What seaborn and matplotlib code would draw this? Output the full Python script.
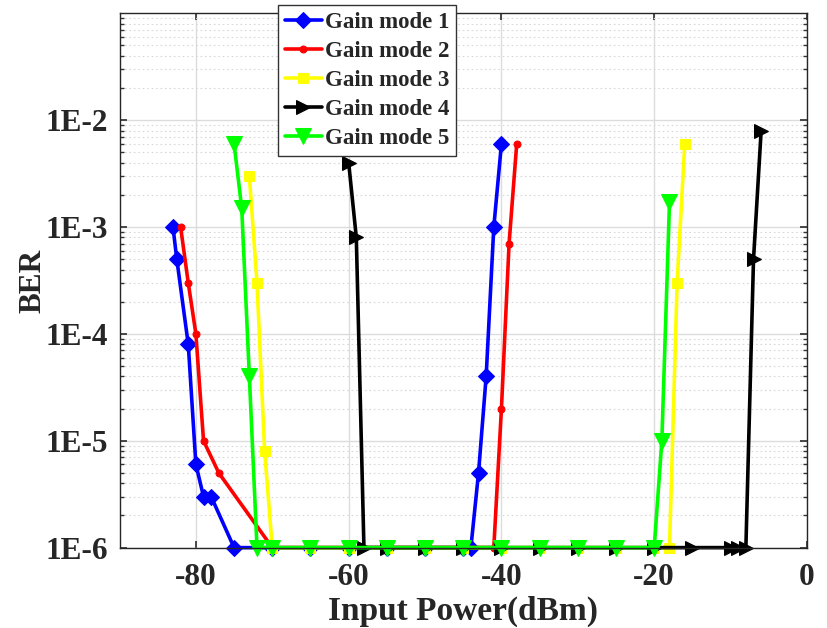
import matplotlib
matplotlib.use("Agg")
import matplotlib.pyplot as plt
import matplotlib.ticker as mticker
import numpy as np
import seaborn as sns

# values
mode1_x = [-83, -82.5, -81, -80, -79, -78, -75, -70, -65, -60, -55, -50, -45, -44, -43, -42, -41, -40]
mode1_ber = [1e-3, 5e-4, 8e-5, 6e-6, 3e-6, 3e-6, 1e-6, 1e-6, 1e-6, 1e-6, 1e-6, 1e-6, 1e-6, 1e-6,
             5e-6, 4e-5, 1e-3, 6e-3]

mode2_x = [-82, -81, -80, -79, -77, -70, -65, -60, -55, -50, -45, -41, -40, -39, -38]
mode2_ber = [1e-3, 3e-4, 1e-4, 1e-5, 5e-6, 1e-6, 1e-6, 1e-6, 1e-6, 1e-6, 1e-6, 1e-6, 2e-5, 7e-4, 6e-3]

mode3_x = [-73, -72, -71, -70, -65, -60, -55, -50, -45, -40, -35, -30, -25, -20, -18, -17, -16]
mode3_ber = [3e-3, 3e-4, 8e-6, 1e-6, 1e-6, 1e-6, 1e-6, 1e-6, 1e-6, 1e-6, 1e-6, 1e-6, 1e-6, 1e-6,
             1e-6, 3e-4, 6e-3]

mode4_x = [-60, -59, -58, -55, -50, -45, -40, -35, -30, -25, -20, -15, -10, -9, -8, -7, -6]
mode4_ber = [4e-3, 8e-4, 1e-6, 1e-6, 1e-6, 1e-6, 1e-6, 1e-6, 1e-6, 1e-6, 1e-6, 1e-6, 1e-6, 1e-6,
             1e-6, 5e-4, 8e-3]

mode5_x = [-75, -74, -73, -72, -70, -65, -60, -55, -50, -45, -40, -35, -30, -25, -20, -19, -18]
mode5_ber = [6e-3, 1.5e-3, 4e-5, 1e-6, 1e-6, 1e-6, 1e-6, 1e-6, 1e-6, 1e-6, 1e-6, 1e-6, 1e-6, 1e-6,
             1e-6, 1e-5, 1.7e-3]

x_ticks = [-80, -60, -40, -20, 0]
y_ticks = [1e-6, 1e-5, 1e-4, 1e-3, 1e-2]
y_tick_labels = ["1E-6", "1E-5", "1E-4", "1E-3", "1E-2"]

sns.set_theme(style="ticks")
plt.rcParams["font.family"] = ["Liberation Serif", "DejaVu Serif"]
plt.rcParams["font.weight"] = "bold"
plt.rcParams["axes.unicode_minus"] = False

fig = plt.figure(figsize=(8.27, 6.28), dpi=100)
ax = fig.add_axes([0.1445, 0.128, 0.8313, 0.8508])

series = [
    ("Gain mode 1", mode1_x, mode1_ber, "#0000ff", "D", 8),
    ("Gain mode 2", mode2_x, mode2_ber, "#ff0000", "o", 5),
    ("Gain mode 3", mode3_x, mode3_ber, "#ffff00", "s", 7),
    ("Gain mode 4", mode4_x, mode4_ber, "#000000", ">", 10),
    ("Gain mode 5", mode5_x, mode5_ber, "#00ff00", "v", 11),
]
for label, xs, ys, color, marker, ms in series:
    sns.lineplot(x=xs, y=ys, ax=ax, color=color, marker=marker, markersize=ms,
                 markeredgecolor=color, linewidth=2.6, label=label, clip_on=False,
                 sort=False)

ax.set_yscale("log")
ax.set_xlim(-90, 0)
ax.set_ylim(1e-6, 1e-1)
ax.set_xticks(x_ticks)
ax.set_yticks(y_ticks)
ax.set_yticklabels(y_tick_labels)
ax.yaxis.set_minor_locator(mticker.LogLocator(base=10, subs=np.arange(2, 10)))
ax.yaxis.set_minor_formatter(mticker.NullFormatter())

ax.grid(True, which="major", color="#dcdcdc", linewidth=1.0)
ax.grid(True, which="minor", axis="y", color="#d8d8d8", linestyle=(0, (1.5, 2.5)), linewidth=0.8)
ax.tick_params(which="both", direction="in", top=True, right=True, labelsize=22.5, length=5,
               color="#333333")
ax.tick_params(axis="x", pad=11)
ax.tick_params(axis="y", pad=8)
ax.tick_params(which="minor", length=3)
for lbl in ax.get_xticklabels() + ax.get_yticklabels():
    lbl.set_fontweight("bold")
for s in ax.spines.values():
    s.set_color("#262626")
    s.set_linewidth(1.0)

ax.set_xlabel("Input Power(dBm)", fontsize=24, fontweight="bold", labelpad=3)
ax.set_ylabel("BER", fontsize=22.5, fontweight="bold", labelpad=-1)

leg = ax.legend(loc="upper left", bbox_to_anchor=(278 / 827, 1 - 5 / 628),
                bbox_transform=fig.transFigure, fancybox=False, framealpha=1,
                edgecolor="#333333", prop={"size": 16.5, "weight": "bold"},
                handlelength=1.6, handletextpad=0.15, labelspacing=0.35,
                borderpad=0.3, borderaxespad=0)
leg.get_frame().set_linewidth(1.0)
leg.set_zorder(10)

fig.savefig("out.png", dpi=100)
